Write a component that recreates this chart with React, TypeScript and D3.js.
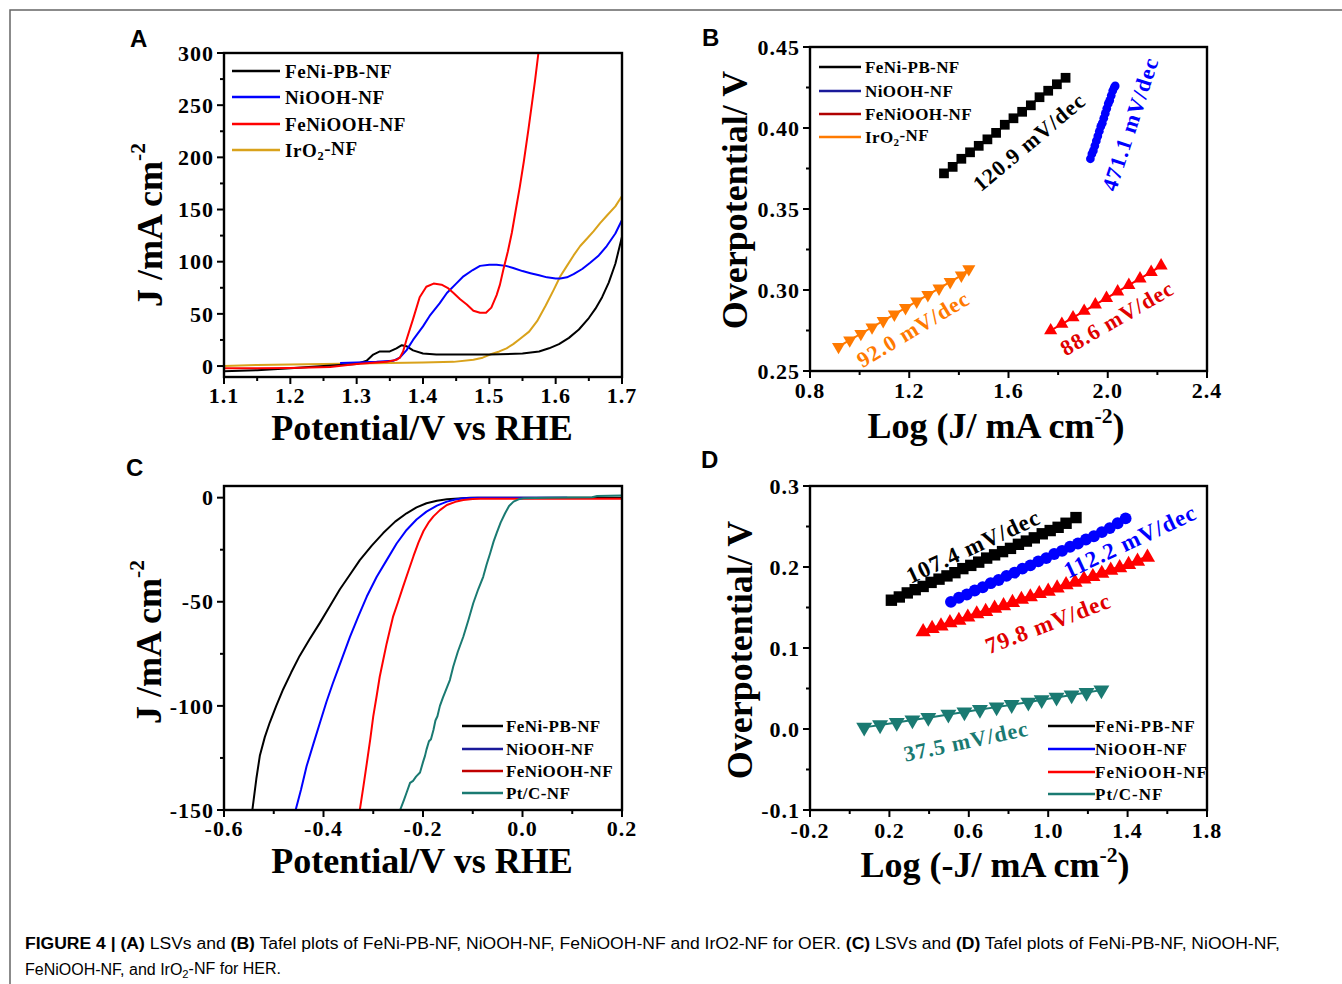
import React from 'react';
import * as d3 from 'd3';

type Pt = [number, number];

// ---------- Panel A: OER LSV ----------
const A_SERIES_NAMES = ['FeNi-PB-NF', 'NiOOH-NF', 'FeNiOOH-NF', 'IrO2-NF'];
const A_FENIPB: Pt[] = [[1.10,-5],[1.15,-4],[1.20,-2],[1.25,0],[1.30,2],[1.315,5],[1.325,11],[1.335,14],[1.35,14],[1.36,17],[1.368,20],[1.375,19],[1.385,15],[1.40,12],[1.42,11],[1.45,11],[1.50,11],[1.55,12],[1.575,14],[1.59,17],[1.605,21],[1.62,27],[1.635,35],[1.65,46],[1.66,55],[1.67,66],[1.68,80],[1.69,98],[1.70,124]];
const A_NIOOH: Pt[] = [[1.275,3],[1.30,3.5],[1.33,4],[1.355,5],[1.365,8],[1.375,15],[1.385,25],[1.40,38],[1.41,48],[1.425,60],[1.436,70],[1.45,79],[1.461,86],[1.475,92],[1.486,96],[1.50,97],[1.511,97],[1.525,96],[1.536,94],[1.55,91],[1.562,89],[1.575,87],[1.587,85],[1.60,84],[1.607,84],[1.617,85],[1.627,88],[1.64,93],[1.652,99],[1.665,106],[1.677,115],[1.69,127],[1.70,140]];
const A_FENIOOH: Pt[] = [[1.10,-2],[1.15,-2],[1.20,-1.8],[1.26,-1],[1.30,2],[1.345,4],[1.36,6],[1.365,8],[1.37,14],[1.375,25],[1.385,45],[1.395,66],[1.405,76],[1.416,79],[1.428,78],[1.437,75],[1.446,70],[1.456,64],[1.466,59],[1.476,53],[1.486,51],[1.495,51],[1.503,56],[1.511,68],[1.516,78],[1.521,92],[1.528,110],[1.534,128],[1.54,150],[1.546,172],[1.552,196],[1.559,227],[1.565,255],[1.569,274],[1.574,300],[1.578,320]];
const A_IRO2: Pt[] = [[1.10,0],[1.15,1],[1.20,1.5],[1.25,2],[1.30,2.5],[1.35,3],[1.40,3.5],[1.446,4],[1.476,6],[1.49,8],[1.501,11],[1.515,14],[1.526,17],[1.536,21],[1.546,26],[1.56,33],[1.572,43],[1.585,58],[1.597,73],[1.607,86],[1.617,96],[1.627,106],[1.637,115],[1.647,122],[1.657,129],[1.667,137],[1.677,144],[1.69,153],[1.70,163]];
const A_XTICKS = [1.1, 1.2, 1.3, 1.4, 1.5, 1.6, 1.7];
const A_XMINOR = [1.15, 1.25, 1.35, 1.45, 1.55, 1.65];
const A_YTICKS = [0, 50, 100, 150, 200, 250, 300];
const A_YMINOR = [25, 75, 125, 175, 225, 275];

// ---------- Panel B: OER Tafel ----------
const B_FENIPB_X = [1.34,1.375,1.41,1.445,1.48,1.515,1.55,1.585,1.62,1.655,1.69,1.725,1.76,1.795,1.83];
const B_FENIPB_Y = [0.372,0.376,0.381,0.385,0.389,0.393,0.397,0.402,0.406,0.410,0.414,0.419,0.423,0.427,0.431];
const B_NIOOH_X = [1.93,1.936,1.942,1.948,1.954,1.96,1.966,1.972,1.978,1.984,1.99,1.996,2.002,2.008,2.014,2.02,2.026,2.03];
const B_NIOOH_Y = [0.381,0.384,0.386,0.389,0.392,0.395,0.398,0.401,0.403,0.406,0.409,0.412,0.415,0.417,0.420,0.423,0.425,0.426];
const B_FENIOOH_X = [1.77,1.815,1.86,1.905,1.95,1.995,2.04,2.085,2.13,2.175,2.215];
const B_FENIOOH_Y = [0.275,0.279,0.283,0.287,0.291,0.295,0.299,0.303,0.307,0.311,0.315];
const B_IRO2_X = [0.915,0.96,1.005,1.05,1.095,1.14,1.185,1.23,1.275,1.32,1.365,1.41,1.44];
const B_IRO2_Y = [0.265,0.269,0.273,0.277,0.281,0.285,0.289,0.293,0.297,0.301,0.305,0.309,0.313];
const B_SLOPES = ['120.9 mV/dec', '471.1 mV/dec', '88.6 mV/dec', '92.0 mV/dec'];
const B_XTICKS = [0.8, 1.2, 1.6, 2.0, 2.4];
const B_XMINOR = [1.0, 1.4, 1.8, 2.2];
const B_YTICKS = [0.25, 0.30, 0.35, 0.40, 0.45];
const B_YMINOR = [0.275, 0.325, 0.375, 0.425];

// ---------- Panel C: HER LSV ----------
const C_SERIES_NAMES = ['FeNi-PB-NF', 'NiOOH-NF', 'FeNiOOH-NF', 'Pt/C-NF'];
const C_FENIPB: Pt[] = [[-0.543,-150],[-0.535,-135],[-0.528,-124],[-0.518,-115],[-0.508,-108],[-0.495,-100],[-0.481,-92],[-0.465,-84],[-0.448,-76],[-0.428,-68],[-0.407,-60],[-0.387,-52],[-0.367,-44],[-0.347,-37],[-0.327,-30],[-0.303,-23],[-0.28,-17],[-0.256,-11.5],[-0.233,-7.5],[-0.213,-4.7],[-0.193,-2.7],[-0.172,-1.5],[-0.152,-0.8],[-0.105,0],[0.2,0]];
const C_NIOOH: Pt[] = [[-0.456,-150],[-0.445,-140],[-0.434,-129],[-0.42,-118],[-0.407,-108],[-0.394,-98],[-0.381,-89],[-0.364,-78],[-0.347,-67],[-0.33,-57],[-0.313,-47.5],[-0.293,-38],[-0.273,-30],[-0.253,-22],[-0.233,-15.5],[-0.213,-10.5],[-0.193,-6.7],[-0.172,-3.8],[-0.152,-1.9],[-0.135,-0.9],[-0.119,-0.3],[-0.09,0],[0.09,0]];
const C_FENIOOH: Pt[] = [[-0.327,-150],[-0.32,-139],[-0.313,-127.6],[-0.306,-116],[-0.300,-105],[-0.293,-95],[-0.287,-86],[-0.28,-78],[-0.273,-70],[-0.266,-63],[-0.26,-57],[-0.25,-50],[-0.24,-42.7],[-0.229,-35],[-0.219,-28],[-0.209,-21.5],[-0.199,-16],[-0.189,-12],[-0.179,-9],[-0.166,-6],[-0.152,-3.5],[-0.135,-2],[-0.119,-1.1],[-0.1,-0.7],[-0.085,-0.5],[0.2,-0.5]];
const C_PTC: Pt[] = [[-0.246,-150],[-0.238,-145],[-0.232,-141],[-0.226,-137],[-0.22,-136],[-0.214,-134],[-0.206,-132],[-0.2,-127],[-0.196,-124],[-0.193,-121],[-0.188,-117],[-0.184,-116],[-0.179,-111.6],[-0.175,-107],[-0.171,-105],[-0.166,-100],[-0.16,-96],[-0.155,-93],[-0.146,-87.6],[-0.139,-81],[-0.13,-74],[-0.119,-66.8],[-0.109,-59],[-0.099,-50.7],[-0.089,-44],[-0.079,-38],[-0.072,-32],[-0.065,-26.7],[-0.058,-21],[-0.052,-17],[-0.044,-12],[-0.035,-7.5],[-0.027,-4],[-0.018,-1.9],[-0.008,-0.8],[0.002,-0.3],[0.05,0],[0.14,0.2],[0.15,0.8],[0.2,1]];
const C_XTICKS = [-0.6, -0.4, -0.2, 0.0, 0.2];
const C_XMINOR = [-0.5, -0.3, -0.1, 0.1];
const C_YTICKS = [-150, -100, -50, 0];
const C_YMINOR = [-125, -75, -25];

// ---------- Panel D: HER Tafel ----------
const D_FENIPB_X = [0.21,0.25,0.29,0.33,0.37,0.41,0.45,0.49,0.53,0.57,0.61,0.65,0.69,0.73,0.77,0.81,0.85,0.89,0.93,0.97,1.01,1.05,1.09,1.14];
const D_FENIPB_Y = [0.159,0.163,0.168,0.172,0.176,0.181,0.185,0.189,0.193,0.198,0.202,0.206,0.211,0.215,0.219,0.223,0.228,0.232,0.236,0.241,0.245,0.249,0.254,0.261];
const D_NIOOH_X = [0.51,0.55,0.59,0.63,0.67,0.71,0.75,0.79,0.83,0.87,0.91,0.95,0.99,1.03,1.07,1.11,1.15,1.19,1.23,1.27,1.31,1.35,1.39];
const D_NIOOH_Y = [0.157,0.162,0.166,0.171,0.175,0.180,0.184,0.189,0.193,0.198,0.202,0.207,0.211,0.216,0.220,0.225,0.229,0.234,0.238,0.243,0.248,0.254,0.260];
const D_FENIOOH_X = [0.37,0.415,0.46,0.505,0.55,0.595,0.64,0.685,0.73,0.775,0.82,0.865,0.91,0.955,1.0,1.045,1.09,1.135,1.18,1.225,1.27,1.315,1.36,1.405,1.45,1.50];
const D_FENIOOH_Y = [0.120,0.124,0.127,0.131,0.134,0.138,0.142,0.145,0.149,0.152,0.156,0.160,0.163,0.167,0.170,0.174,0.178,0.181,0.185,0.188,0.192,0.196,0.199,0.203,0.207,0.212];
const D_PTC_X = [0.073,0.153,0.237,0.316,0.396,0.497,0.578,0.656,0.74,0.816,0.9,0.967,1.042,1.118,1.193,1.268];
const D_PTC_Y = [0.002,0.005,0.008,0.011,0.014,0.018,0.021,0.024,0.027,0.030,0.033,0.036,0.039,0.042,0.045,0.048];
const D_SLOPES = ['107.4 mV/dec', '112.2 mV/dec', '79.8 mV/dec', '37.5 mV/dec'];
const D_XTICKS = [-0.2, 0.2, 0.6, 1.0, 1.4, 1.8];
const D_XMINOR = [0.0, 0.4, 0.8, 1.2, 1.6];
const D_YTICKS = [-0.1, 0.0, 0.1, 0.2, 0.3];
const D_YMINOR = [-0.05, 0.05, 0.15, 0.25];

const SERIF = '"Liberation Serif","Times New Roman",serif';
const SANS = '"Liberation Sans",Arial,sans-serif';

type Marker = 'square' | 'circle' | 'up' | 'down';
interface Series { pts: Pt[]; color: string; width?: number; marker?: Marker; msize?: number; line?: boolean; }
interface Box { l: number; r: number; t: number; b: number; }
interface Ann { text: string; x: number; y: number; rot: number; color: string; fs?: number; }
interface LegendCfg { x1: number; x2: number; tx: number; ys: number[]; fs: number; ls: number; names: string[]; colors: string[]; }

const zip = (xs: number[], ys: number[]): Pt[] => xs.map((x, i) => [x, ys[i]]);

function symbolPath(m: Marker, size: number) {
  const t = m === 'square' ? d3.symbolSquare : m === 'circle' ? d3.symbolCircle : d3.symbolTriangle;
  return d3.symbol().type(t).size(size)() as string;
}

function Name({ n }: { n: string }) {
  if (n === 'IrO2-NF') {
    return (<><tspan>IrO</tspan><tspan fontSize="0.65em" dy="0.3em">2</tspan><tspan dy="-0.3em">-NF</tspan></>);
  }
  return <>{n}</>;
}

function Panel(props: {
  id: string; box: Box; xDom: [number, number]; yDom: [number, number];
  xTicks: number[]; xMinor: number[]; yTicks: number[]; yMinor: number[];
  xFmt: (v: number) => string; yFmt: (v: number) => string;
  series: Series[]; legend: LegendCfg; anns: Ann[]; tickFs: number; xLabelDy: number;
}) {
  const { id, box, xDom, yDom, xTicks, xMinor, yTicks, yMinor, xFmt, yFmt, series, legend, anns, tickFs, xLabelDy } = props;
  const x = d3.scaleLinear().domain(xDom).range([box.l, box.r]);
  const y = d3.scaleLinear().domain(yDom).range([box.b, box.t]);
  const line = d3.line<Pt>().x(d => x(d[0])).y(d => y(d[1]));
  const major = 7, minor = 4;
  return (
    <g>
      <defs>
        <clipPath id={`clip-${id}`}>
          <rect x={box.l} y={box.t} width={box.r - box.l} height={box.b - box.t} />
        </clipPath>
      </defs>
      <g clipPath={`url(#clip-${id})`}>
        {series.map((s, i) => (
          <g key={i}>
            {(s.line !== false) && (
              <path d={line(s.pts) || ''} fill="none" stroke={s.color} strokeWidth={s.width ?? 2} strokeLinejoin="round" />
            )}
            {s.marker && s.pts.map((p, j) => (
              <path key={j} d={symbolPath(s.marker as Marker, s.msize ?? 60)}
                transform={`translate(${x(p[0])},${y(p[1])})${s.marker === 'down' ? ' rotate(180)' : ''}`}
                fill={s.color} />
            ))}
          </g>
        ))}
      </g>
      <rect x={box.l} y={box.t} width={box.r - box.l} height={box.b - box.t} fill="none" stroke="#000" strokeWidth={2.4} />
      {xTicks.map((v, i) => (
        <g key={`xt${i}`}>
          <line x1={x(v)} x2={x(v)} y1={box.b} y2={box.b + major} stroke="#000" strokeWidth={2} />
          <text x={x(v)} y={box.b + xLabelDy} textAnchor="middle" fontFamily={SERIF} fontWeight="bold" fontSize={tickFs} letterSpacing={1}>{xFmt(v)}</text>
        </g>
      ))}
      {xMinor.map((v, i) => (
        <line key={`xm${i}`} x1={x(v)} x2={x(v)} y1={box.b} y2={box.b + minor} stroke="#000" strokeWidth={2} />
      ))}
      {yTicks.map((v, i) => (
        <g key={`yt${i}`}>
          <line x1={box.l - major} x2={box.l} y1={y(v)} y2={y(v)} stroke="#000" strokeWidth={2} />
          <text x={box.l - 10} y={y(v)} dy="0.35em" textAnchor="end" fontFamily={SERIF} fontWeight="bold" fontSize={tickFs} letterSpacing={1}>{yFmt(v)}</text>
        </g>
      ))}
      {yMinor.map((v, i) => (
        <line key={`ym${i}`} x1={box.l - minor} x2={box.l} y1={y(v)} y2={y(v)} stroke="#000" strokeWidth={2} />
      ))}
      {legend.names.map((n, i) => (
        <g key={`lg${i}`}>
          <line x1={legend.x1} x2={legend.x2} y1={legend.ys[i]} y2={legend.ys[i]} stroke={legend.colors[i]} strokeWidth={2.5} />
          <text x={legend.tx} y={legend.ys[i]} dy="0.35em" fontFamily={SERIF} fontWeight="bold" fontSize={legend.fs} letterSpacing={legend.ls}><Name n={n} /></text>
        </g>
      ))}
      {anns.map((a, i) => (
        <text key={`an${i}`} transform={`translate(${a.x},${a.y}) rotate(${a.rot})`} textAnchor="middle" dy="0.35em"
          fontFamily={SERIF} fontWeight="bold" fontSize={a.fs ?? 22} letterSpacing={1} fill={a.color}>{a.text}</text>
      ))}
    </g>
  );
}

const fmtHyphen = (f: (v: number) => string) => (v: number) => f(v).replace('\u2212', '-');

export default function App() {
  const BLUE = '#0000ff', RED = '#ff0000', BLACK = '#000000';
  const GOLD = '#d9a21b', ORANGE = '#ff7a00', TEAL = '#1a7a72';

  const aSeries: Series[] = [
    { pts: A_IRO2, color: GOLD },
    { pts: A_FENIPB, color: BLACK },
    { pts: A_NIOOH, color: BLUE },
    { pts: A_FENIOOH, color: RED },
  ];
  const bSeries: Series[] = [
    { pts: zip(B_FENIPB_X, B_FENIPB_Y), color: BLACK, marker: 'square', msize: 95 },
    { pts: zip(B_NIOOH_X, B_NIOOH_Y), color: BLUE, marker: 'circle', msize: 60, width: 4 },
    { pts: zip(B_FENIOOH_X, B_FENIOOH_Y), color: RED, marker: 'up', msize: 75 },
    { pts: zip(B_IRO2_X, B_IRO2_Y), color: ORANGE, marker: 'down', msize: 75 },
  ];
  const cSeries: Series[] = [
    { pts: C_FENIPB, color: BLACK },
    { pts: C_NIOOH, color: BLUE },
    { pts: C_FENIOOH, color: RED },
    { pts: C_PTC, color: TEAL },
  ];
  const dSeries: Series[] = [
    { pts: zip(D_FENIPB_X, D_FENIPB_Y), color: BLACK, marker: 'square', msize: 130, width: 5 },
    { pts: zip(D_NIOOH_X, D_NIOOH_Y), color: BLUE, marker: 'circle', msize: 110, width: 5 },
    { pts: zip(D_FENIOOH_X, D_FENIOOH_Y), color: RED, marker: 'up', msize: 100, width: 4 },
    { pts: zip(D_PTC_X, D_PTC_Y), color: TEAL, marker: 'down', msize: 110 },
  ];

  const titleStyle = { fontFamily: SERIF, fontWeight: 'bold' as const, fontSize: 36 };

  return (
    <svg width={1342} height={984} style={{ position: 'absolute', left: 0, top: 0, background: '#fff' }}>
      <rect x={0} y={0} width={1342} height={984} fill="#fff" />
      <path d="M10,984 V10 H1342" fill="none" stroke="#666" strokeWidth={1.5} />

      <text x={130} y={47} fontFamily={SANS} fontWeight="bold" fontSize={24}>A</text>
      <text x={702} y={46} fontFamily={SANS} fontWeight="bold" fontSize={24}>B</text>
      <text x={126} y={476} fontFamily={SANS} fontWeight="bold" fontSize={24}>C</text>
      <text x={701} y={468} fontFamily={SANS} fontWeight="bold" fontSize={24}>D</text>

      <Panel id="a" box={{ l: 224, r: 622, t: 53, b: 377 }} xDom={[1.1, 1.7]} yDom={[-10.5, 300]}
        xTicks={A_XTICKS} xMinor={A_XMINOR} yTicks={A_YTICKS} yMinor={A_YMINOR}
        xFmt={d3.format('.1f')} yFmt={d3.format('d')} series={aSeries} tickFs={22} xLabelDy={26}
        legend={{ x1: 232, x2: 280, tx: 285, ys: [71, 97, 124, 150], fs: 19, ls: 0.6, names: A_SERIES_NAMES, colors: [BLACK, BLUE, RED, GOLD] }}
        anns={[]} />

      <Panel id="b" box={{ l: 810, r: 1207, t: 47, b: 371 }} xDom={[0.8, 2.4]} yDom={[0.25, 0.45]}
        xTicks={B_XTICKS} xMinor={B_XMINOR} yTicks={B_YTICKS} yMinor={B_YMINOR}
        xFmt={d3.format('.1f')} yFmt={d3.format('.2f')} series={bSeries} tickFs={22} xLabelDy={27}
        legend={{ x1: 819, x2: 861, tx: 865, ys: [67, 91, 114, 137], fs: 17, ls: 0.4, names: A_SERIES_NAMES, colors: [BLACK, '#1a1a9a', '#b00000', ORANGE] }}
        anns={[
          { text: B_SLOPES[0], x: 1029, y: 142, rot: -40, color: BLACK },
          { text: B_SLOPES[1], x: 1130, y: 124, rot: -72, color: BLUE },
          { text: B_SLOPES[2], x: 1117, y: 318, rot: -30, color: '#e00000' },
          { text: B_SLOPES[3], x: 913, y: 329, rot: -31, color: ORANGE },
        ]} />

      <Panel id="c" box={{ l: 224, r: 622, t: 486, b: 810 }} xDom={[-0.6, 0.2]} yDom={[-150, 5.6]}
        xTicks={C_XTICKS} xMinor={C_XMINOR} yTicks={C_YTICKS} yMinor={C_YMINOR}
        xFmt={fmtHyphen(d3.format('.1f'))} yFmt={fmtHyphen(d3.format('d'))} series={cSeries} tickFs={22} xLabelDy={26}
        legend={{ x1: 462, x2: 503, tx: 506, ys: [726, 749, 771, 793], fs: 17, ls: 0.4, names: C_SERIES_NAMES, colors: [BLACK, '#1a1a9a', '#c00000', TEAL] }}
        anns={[]} />

      <Panel id="d" box={{ l: 810, r: 1207, t: 486, b: 810 }} xDom={[-0.2, 1.8]} yDom={[-0.1, 0.3]}
        xTicks={D_XTICKS} xMinor={D_XMINOR} yTicks={D_YTICKS} yMinor={D_YMINOR}
        xFmt={fmtHyphen(d3.format('.1f'))} yFmt={fmtHyphen(d3.format('.1f'))} series={dSeries} tickFs={22} xLabelDy={28}
        legend={{ x1: 1048, x2: 1095, tx: 1095, ys: [726, 749, 772, 794], fs: 17, ls: 1, names: C_SERIES_NAMES, colors: [BLACK, BLUE, RED, TEAL] }}
        anns={[
          { text: D_SLOPES[0], x: 973, y: 546, rot: -25, color: BLACK, fs: 23 },
          { text: D_SLOPES[1], x: 1130, y: 541, rot: -25, color: BLUE, fs: 23 },
          { text: D_SLOPES[2], x: 1048, y: 623, rot: -21, color: '#e00000', fs: 23 },
          { text: D_SLOPES[3], x: 966, y: 741, rot: -12, color: TEAL, fs: 22 },
        ]} />

      <text x={422} y={440} textAnchor="middle" {...titleStyle}>Potential/V vs RHE</text>
      <text x={422} y={873} textAnchor="middle" {...titleStyle}>Potential/V vs RHE</text>
      <text x={996} y={438} textAnchor="middle" {...titleStyle}>Log (J/ mA cm<tspan fontSize="0.6em" dy="-0.7em">-2</tspan><tspan dy="0.42em">)</tspan></text>
      <text x={995} y={877} textAnchor="middle" {...titleStyle}>Log (-J/ mA cm<tspan fontSize="0.6em" dy="-0.7em">-2</tspan><tspan dy="0.42em">)</tspan></text>
      <text transform="translate(162,225) rotate(-90)" textAnchor="middle" {...titleStyle}>J /mA cm<tspan fontSize="0.6em" dy="-0.8em">-2</tspan></text>
      <text transform="translate(161,642) rotate(-90)" textAnchor="middle" {...titleStyle}>J /mA cm<tspan fontSize="0.6em" dy="-0.8em">-2</tspan></text>
      <text transform="translate(747,200) rotate(-90)" textAnchor="middle" {...titleStyle}>Overpotential/ V</text>
      <text transform="translate(752,650) rotate(-90)" textAnchor="middle" {...titleStyle}>Overpotential/ V</text>

      <text x={25} y={949} fontFamily={SANS} fontSize={16} textLength={1255} lengthAdjust="spacingAndGlyphs">
        <tspan fontWeight="bold">FIGURE 4 | (A)</tspan> LSVs and <tspan fontWeight="bold">(B)</tspan> Tafel plots of FeNi-PB-NF, NiOOH-NF, FeNiOOH-NF and IrO2-NF for OER. <tspan fontWeight="bold">(C)</tspan> LSVs and <tspan fontWeight="bold">(D)</tspan> Tafel plots of FeNi-PB-NF, NiOOH-NF,
      </text>
      <text x={25} y={975} fontFamily={SANS} fontSize={16}>
        FeNiOOH-NF, and IrO<tspan fontSize="0.7em" dy="0.3em">2</tspan><tspan dy="-0.3em">-NF for HER.</tspan>
      </text>
    </svg>
  );
}
